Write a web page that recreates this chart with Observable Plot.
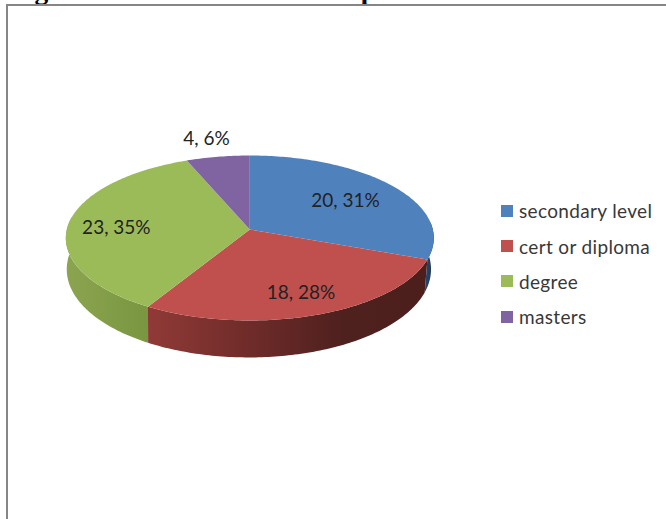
<!DOCTYPE html>
<html>
<head>
<meta charset="utf-8">
<script src="https://cdn.jsdelivr.net/npm/d3@7"></script>
<script src="https://cdn.jsdelivr.net/npm/@observablehq/plot@0.6"></script>
<style>
  html, body { margin: 0; padding: 0; background: #fff; overflow: hidden; }
  #page { position: relative; width: 666px; height: 519px; overflow: hidden; font-family: Lato, sans-serif; }
  #title { position: absolute; left: 10px; top: -24.5px; margin: 0; font: bold 27.6px/27.6px "Liberation Serif", serif; white-space: nowrap; color: #000; }
  #border { position: absolute; left: 6px; top: 4px; width: 800px; height: 700px; border: 2px solid #868686; }
  #chart { position: absolute; left: 0; top: 0; }
  #legend { position: absolute; left: 501px; top: 193px; display: grid; row-gap: 0; grid-auto-rows: 35.4px; align-items: center; font-size: 19px; letter-spacing: 0.35px; color: #383838; white-space: nowrap; }
  #legend div { display: flex; align-items: center; }
  #legend i { display: inline-block; width: 12px; height: 12px; margin-right: 6px; }
</style>
</head>
<body>
<div id="page">
  <h1 id="title">Figure 4: Education of the respondents</h1>
  <div id="border"></div>
  <div id="chart"></div>
  <div id="legend"></div>
</div>
<script>
// Highest qualification of the respondents
const categories = ["secondary level", "cert or diploma", "degree", "masters"];
const counts = [20, 18, 23, 4];
const topColors = ["#4f81bd", "#c0504d", "#9bbb59", "#8064a2"];

// Layout of the tilted disc, in disc radii
const labelRadius = [0.66, 0.78, 0.73, 1.27];
const labelShiftX = [0, 0, -0.005, -0.02];
const labelShiftY = [0.005, -0.01, 0.015, 0];
const W = 666, H = 519, centerX = 249.3, centerY = 229, radiusPx = 183;
const tilt = 0.4459, perspective = 0.103, depth = 0.202;

const total = d3.sum(counts);
const cumulative = d3.cumsum(counts);

// Perspective projection of a point on the disc; angles run clockwise from 12 o'clock
function project(angle, r = 1) {
  const u = r * Math.sin(angle), v = -r * Math.cos(angle);
  const w = 1 - perspective * v;
  return {x: u / w, y: (tilt * v) / w};
}
function projectBase(angle) {
  const p = project(angle), v = -Math.cos(angle);
  return {x: p.x * 0.99 - 0.005, y: p.y + depth * (0.83 + 0.17 * v)};
}
function arc(a, b, f = project) {
  const n = Math.max(2, Math.ceil(Math.abs(b - a) * 60));
  return d3.range(n + 1).map((i) => f(a + ((b - a) * i) / n));
}

const slices = categories.map((category, i) => {
  const start = ((cumulative[i] - counts[i]) / total) * 2 * Math.PI;
  const end = (cumulative[i] / total) * 2 * Math.PI;
  const anchor = project((start + end) / 2, labelRadius[i]);
  return {
    category,
    value: counts[i],
    start,
    end,
    label: `${counts[i]}, ${Math.round((counts[i] / total) * 100)}%`,
    labelX: anchor.x + labelShiftX[i],
    labelY: anchor.y + labelShiftY[i]
  };
});

// Top face of every slice
const topFaces = slices.flatMap((s) =>
  [{x: 0, y: 0}, ...arc(s.start, s.end)].map((p) => ({...p, category: s.category}))
);

// Outer wall of the three slices that face the viewer
const edge = Math.PI * 0.47, edgeLeft = Math.PI * 1.55;
const wallRanges = [
  {id: "wall-blue", a: edge, b: slices[0].end},
  {id: "wall-red", a: slices[1].start, b: slices[1].end},
  {id: "wall-green", a: slices[2].start, b: edgeLeft}
];
const walls = wallRanges.map((w) => ({
  id: w.id,
  points: [...arc(w.a, w.b), ...arc(w.b, w.a, projectBase)]
}));

// Wall shading, declared once and referenced by url()
function gradients() {
  const defs = [
    ["wall-blue", [[0, "#2a4a70"], [1, "#1c3350"]]],
    ["wall-red", [[0, "#903a37"], [0.35, "#702c2a"], [0.7, "#4e201e"], [1, "#4c1f1d"]]],
    ["wall-green", [[0, "#8ba44f"], [1, "#7a9641"]]]
  ];
  const node = d3.create("svg:defs");
  for (const [id, stops] of defs) {
    const g = node.append("linearGradient").attr("id", id);
    for (const [o, c] of stops) g.append("stop").attr("offset", o).attr("stop-color", c);
  }
  return node.node();
}

const chart = Plot.plot({
  width: W, height: H,
  margin: 0,
  style: {background: "transparent", fontFamily: "Lato, sans-serif"},
  x: {domain: [-centerX / radiusPx, (W - centerX) / radiusPx], range: [0, W], axis: null},
  y: {domain: [-centerY / radiusPx, (H - centerY) / radiusPx], range: [0, H], axis: null},
  color: {domain: categories, range: topColors},
  marks: [
    gradients,
    ...walls.map((w) => Plot.line(w.points, {x: "x", y: "y", fill: `url(#${w.id})`, stroke: "none"})),
    Plot.line(topFaces, {x: "x", y: "y", z: "category", fill: "category", stroke: "none"}),
    Plot.text(slices, {x: "labelX", y: "labelY", text: "label", fontSize: 19, fill: "#222"})
  ]
});
document.getElementById("chart").append(chart);

// Legend column to the right of the pie
const legend = d3.select("#legend");
categories.forEach((c, i) => {
  const row = legend.append("div");
  row.append("i").style("background", topColors[i]);
  row.append("span").text(c);
});
</script>
</body>
</html>
